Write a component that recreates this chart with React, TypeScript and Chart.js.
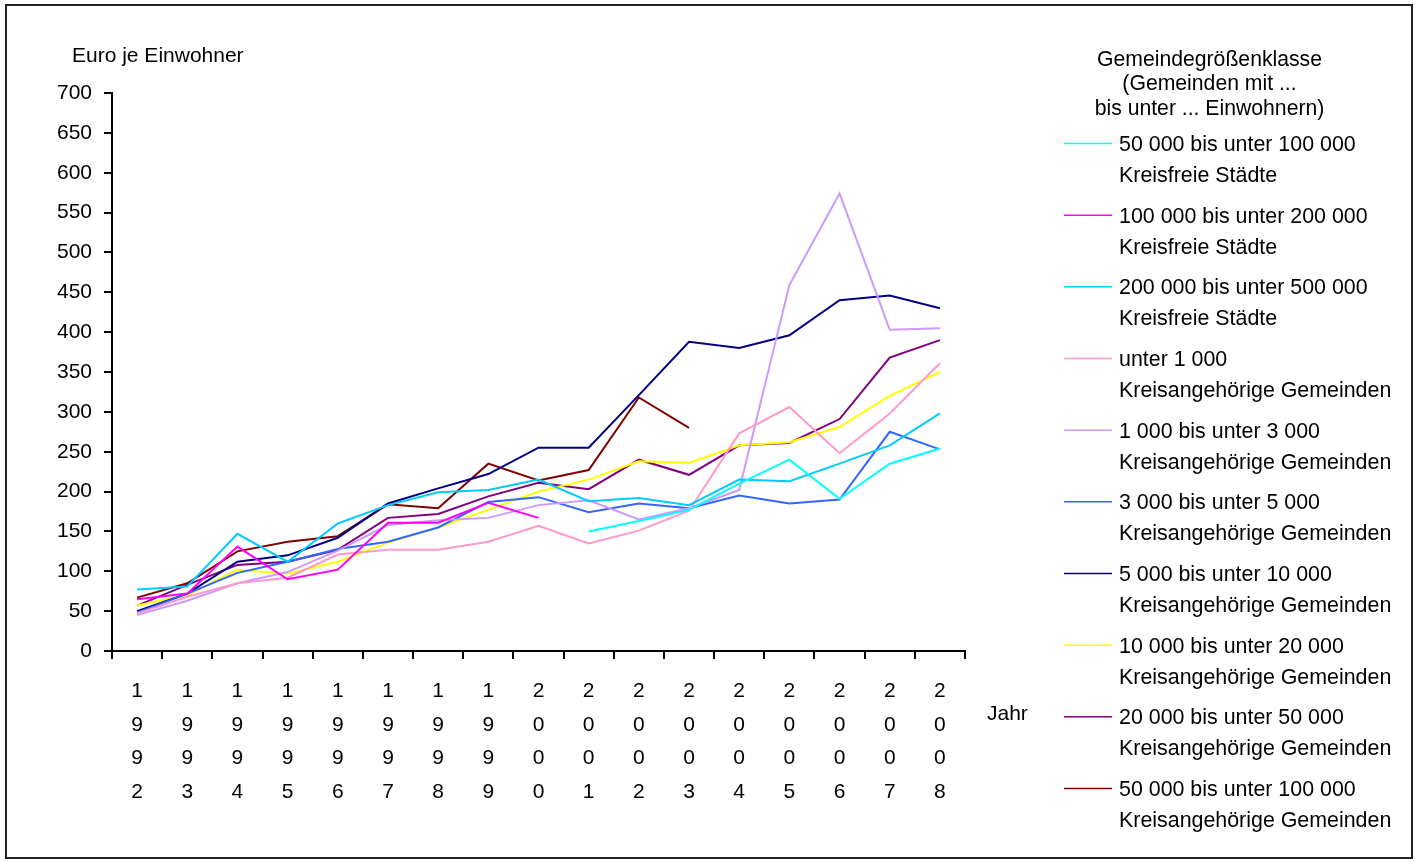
import React, { useEffect, useRef } from 'react';
import { Chart, registerables } from 'chart.js';

Chart.register(...registerables);

const FONT = "'Liberation Sans', Arial, sans-serif";

const years = ['1992', '1993', '1994', '1995', '1996', '1997', '1998', '1999', '2000', '2001', '2002', '2003', '2004', '2005', '2006', '2007', '2008'];

const kreisfrei50k = [null, null, null, null, null, null, null, null, null, 150, 163, 177, 210, 240, 191, 235, 254];
const kreisfrei100k = [65, 72, 131, 90, 102, 161, 161, 186, 167, null, null, null, null, null, null, null, null];
const kreisfrei200k = [77, 81, 147, 112, 160, 183, 199, 202, 215, 188, 192, 183, 215, 213, 235, 258, 298];
const unter1k = [47, 68, 85, 92, 121, 127, 127, 137, 157, 135, 151, 176, 273, 306, 248, 298, 361];
const von1k = [45, 63, 85, 99, 126, 158, 164, 167, 183, 189, 165, 179, 202, 459, 574, 403, 405];
const von3k = [48, 72, 98, 112, 128, 137, 155, 187, 193, 174, 185, 179, 195, 185, 190, 275, 253];
const von5k = [50, 72, 112, 120, 142, 185, 204, 222, 255, 255, 321, 388, 380, 396, 440, 446, 430];
const von10k = [57, 70, 102, 97, 112, 136, 155, 177, 200, 215, 238, 236, 258, 262, 281, 320, 350];
const von20k = [57, 83, 108, 112, 127, 167, 172, 194, 211, 203, 240, 221, 258, 261, 291, 368, 390];
const kreisang50k = [67, 85, 125, 137, 144, 184, 179, 235, 214, 227, 318, 280, null, null, null, null, null];

const seriesValues = [kreisfrei50k, kreisfrei100k, kreisfrei200k, unter1k, von1k, von3k, von5k, von10k, von20k, kreisang50k];

const legendLine1 = [
  '50 000 bis unter 100 000',
  '100 000 bis unter 200 000',
  '200 000 bis unter 500 000',
  'unter 1 000',
  '1 000 bis unter 3 000',
  '3 000 bis unter 5 000',
  '5 000 bis unter 10 000',
  '10 000 bis unter 20 000',
  '20 000 bis unter 50 000',
  '50 000 bis unter 100 000',
];
const legendLine2 = [
  'Kreisfreie Städte',
  'Kreisfreie Städte',
  'Kreisfreie Städte',
  'Kreisangehörige Gemeinden',
  'Kreisangehörige Gemeinden',
  'Kreisangehörige Gemeinden',
  'Kreisangehörige Gemeinden',
  'Kreisangehörige Gemeinden',
  'Kreisangehörige Gemeinden',
  'Kreisangehörige Gemeinden',
];
const colors = ['#00FFFF', '#FF00FF', '#00CCFF', '#FF99CC', '#CC99FF', '#3366FF', '#000080', '#FFFF00', '#800080', '#800000'];

const legendTitle = ['Gemeindegrößenklasse', '(Gemeinden mit ...', 'bis unter ... Einwohnern)'];
const yTitle = 'Euro je Einwohner';
const xTitle = 'Jahr';

const decorPlugin = {
  id: 'decor',
  beforeDraw(chart: any) {
    const ctx = chart.ctx;
    ctx.save();
    ctx.fillStyle = '#fff';
    ctx.fillRect(0, 0, chart.width, chart.height);
    ctx.restore();
  },
  afterDraw(chart: any) {
    const ctx = chart.ctx;
    ctx.save();
    // frame
    ctx.strokeStyle = '#222';
    ctx.lineWidth = 2;
    ctx.strokeRect(6, 5, 1406, 853);

    ctx.fillStyle = '#000';
    ctx.font = `21px ${FONT}`;
    ctx.textBaseline = 'alphabetic';
    ctx.textAlign = 'left';
    ctx.fillText(yTitle, 72, 62);
    ctx.fillText(xTitle, 987, 720);

    // legend title
    ctx.font = `21.2px ${FONT}`;
    ctx.textAlign = 'center';
    legendTitle.forEach((t, i) => {
      ctx.fillText(t, 1209.5, 65.5 + i * 24.5);
    });

    // legend entries
    ctx.font = `21.4px ${FONT}`;
    ctx.textAlign = 'left';
    chart.data.datasets.forEach((ds: any, i: number) => {
      const base = 151 + i * 71.67;
      ctx.strokeStyle = ds.borderColor;
      ctx.lineWidth = 1.5;
      ctx.beginPath();
      ctx.moveTo(1064, base - 7.5);
      ctx.lineTo(1112, base - 7.5);
      ctx.stroke();
      ctx.fillStyle = '#000';
      ctx.fillText(legendLine1[i], 1119, base);
      ctx.fillText(legendLine2[i], 1119, base + 31);
    });
    ctx.restore();
  },
};

export default function App() {
  const ref = useRef<HTMLCanvasElement | null>(null);

  useEffect(() => {
    if (!ref.current) return;
    Chart.defaults.font.family = FONT;
    Chart.defaults.color = '#000';
    const chart = new Chart(ref.current, {
      type: 'line',
      data: {
        labels: years.map((y) => y.split('')),
        datasets: seriesValues.map((vals, i) => ({
          label: legendLine1[i] + ' ' + legendLine2[i],
          data: vals,
          borderColor: colors[i],
          backgroundColor: colors[i],
          borderWidth: 2,
          pointRadius: 0,
          tension: 0,
          fill: false,
          spanGaps: false,
        })),
      },
      options: {
        responsive: false,
        animation: false,
        layout: { padding: { top: 93, left: 0, right: 458, bottom: 10 } },
        plugins: {
          legend: { display: false },
          tooltip: { enabled: false },
          title: { display: false },
        },
        scales: {
          x: {
            type: 'category',
            offset: true,
            grid: {
              offset: true,
              drawOnChartArea: false,
              drawTicks: true,
              tickLength: 8,
              tickWidth: 2,
              tickColor: '#000',
              color: '#000',
              lineWidth: 2,
            },
            border: { display: true, color: '#000', width: 2 },
            ticks: {
              color: '#000',
              font: { family: FONT, size: 21, lineHeight: 1.59 },
              padding: 16,
              maxRotation: 0,
              minRotation: 0,
              autoSkip: false,
            },
            afterFit: (s: any) => {
              s.height = 862 - 651 - 10;
            },
          },
          y: {
            min: 0,
            max: 700,
            grid: {
              drawOnChartArea: false,
              drawTicks: true,
              tickLength: 8,
              tickWidth: 2,
              tickColor: '#000',
              color: '#000',
              lineWidth: 2,
            },
            border: { display: true, color: '#000', width: 2 },
            ticks: {
              stepSize: 50,
              color: '#000',
              font: { family: FONT, size: 21 },
              padding: 12,
            },
            afterFit: (s: any) => {
              s.width = 112;
            },
          },
        },
      },
      plugins: [decorPlugin],
    } as any);
    return () => chart.destroy();
  }, []);

  return (
    <div style={{ position: 'fixed', left: 0, top: 0, width: 1423, height: 862, background: '#fff' }}>
      <canvas ref={ref} width={1423} height={862} style={{ display: 'block', width: 1423, height: 862 }} />
    </div>
  );
}
